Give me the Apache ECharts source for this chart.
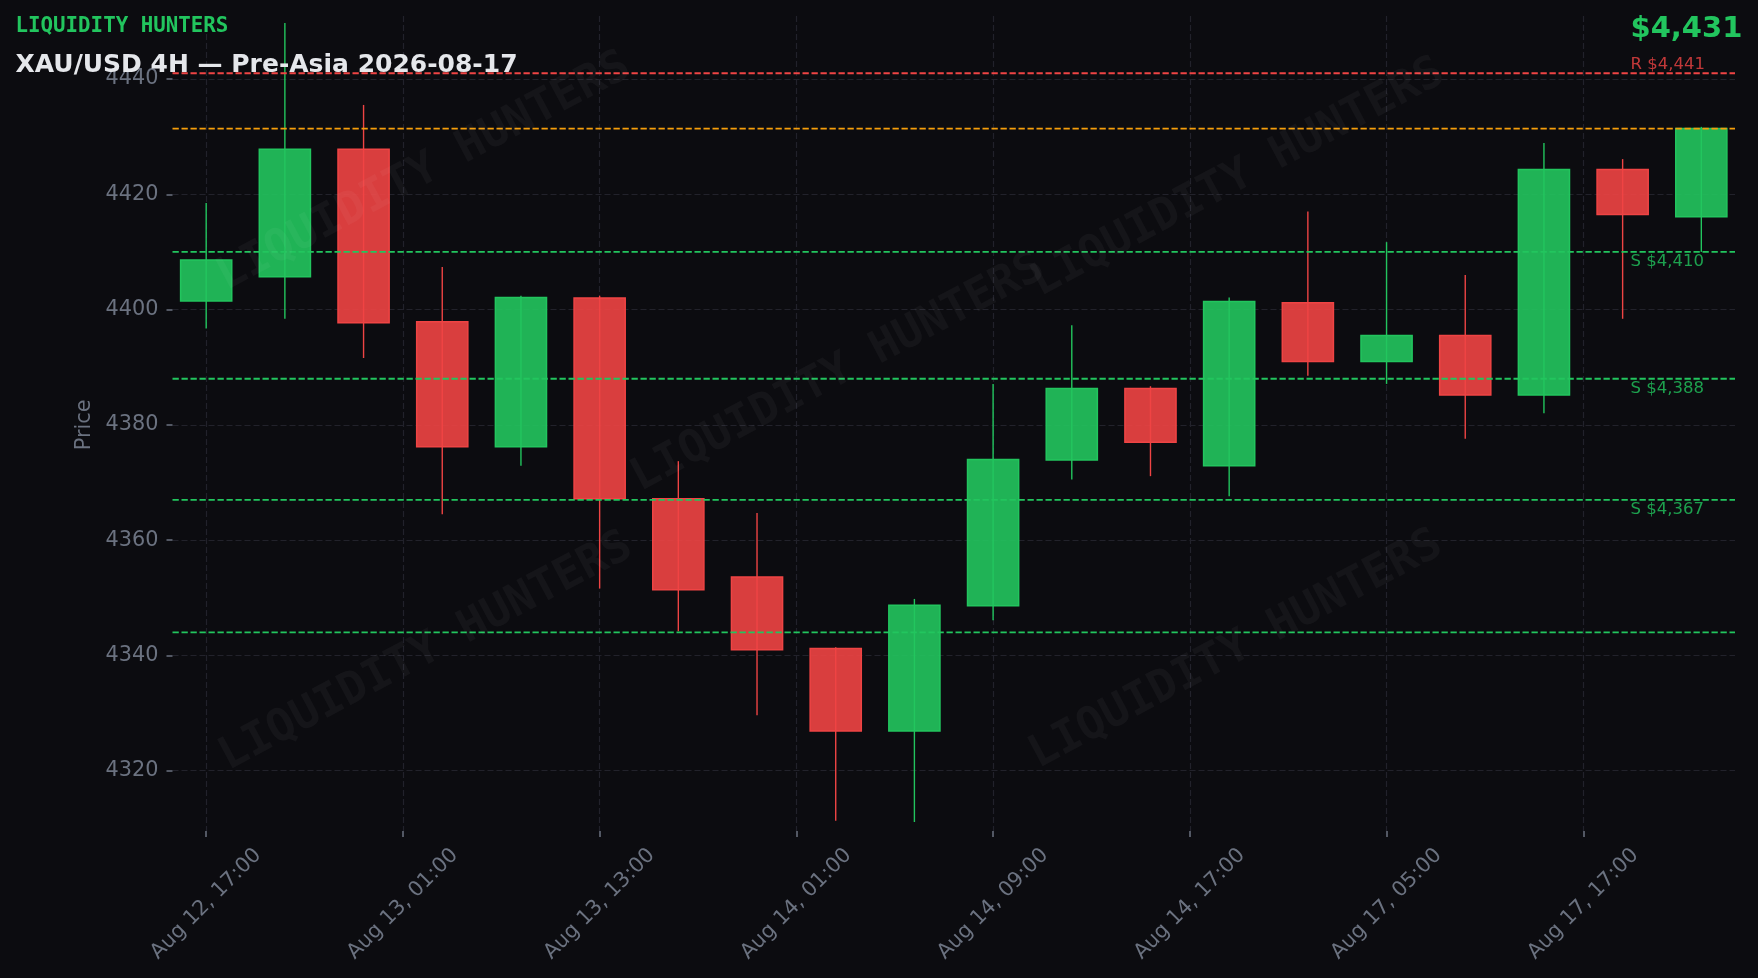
<!DOCTYPE html>
<html>
<head>
<meta charset="utf-8">
<script src="https://cdn.jsdelivr.net/npm/echarts@6/dist/echarts.min.js"></script>
<style>
html,body{margin:0;padding:0;background:#0c0c10;}
#chart{width:1758px;height:978px;}
</style>
</head>
<body>
<div id="chart"></div>
<script>
// ---------------- DATA ----------------
const times = ['Aug 12, 17:00','Aug 12, 21:00','Aug 13, 01:00','Aug 13, 05:00','Aug 13, 09:00','Aug 13, 13:00','Aug 13, 17:00','Aug 13, 21:00','Aug 14, 01:00','Aug 14, 05:00','Aug 14, 09:00','Aug 14, 13:00','Aug 14, 17:00','Aug 14, 21:00','Aug 17, 01:00','Aug 17, 05:00','Aug 17, 09:00','Aug 17, 13:00','Aug 17, 17:00','Aug 17, 21:00'];
const opens  = [4401.5,4405.7,4427.8,4397.9,4376.2,4402.0,4367.2,4353.6,4341.2,4326.9,4348.6,4373.9,4386.3,4372.9,4401.2,4391.0,4395.5,4385.2,4424.3,4416.1];
const closes = [4408.6,4427.8,4397.7,4376.2,4402.1,4367.2,4351.4,4341.0,4326.9,4348.7,4374.0,4386.3,4377.0,4401.4,4391.0,4395.5,4385.2,4424.3,4416.5,4431.4];
const lows   = [4396.7,4398.4,4391.6,4364.5,4372.9,4351.6,4344.2,4329.6,4311.3,4311.1,4346.1,4370.5,4371.1,4367.6,4388.5,4387.1,4377.6,4382.0,4398.4,4410.0];
const highs  = [4418.5,4449.7,4435.5,4407.4,4402.4,4402.4,4373.7,4364.7,4341.4,4349.8,4387.1,4397.3,4386.7,4402.1,4417.0,4411.7,4406.0,4428.9,4426.1,4431.7];
const tickLabels = ['Aug 12, 17:00','Aug 13, 01:00','Aug 13, 13:00','Aug 14, 01:00','Aug 14, 09:00','Aug 14, 17:00','Aug 17, 05:00','Aug 17, 17:00'];
const yTicks = [4320, 4340, 4360, 4380, 4400, 4420, 4440];
const resistanceLevels = [4441];
const supportLevels = [4410, 4388, 4367, 4344];
const lastPrice = closes[closes.length - 1];
const brand = 'LIQUIDITY HUNTERS';
const title = 'XAU/USD 4H — Pre-Asia 2026-08-17';

// ---------------- LAYOUT ----------------
const W = 1758, H = 978;
const plotL = 172.5, plotR = 1735, plotT = 16, plotB = 831;
const xMin = -0.428, xMax = 19.428;
const yMin = 4309.54, yMax = 4450.93;
const tickStep = 2.5;
const tickMax = tickStep * (tickLabels.length - 1);
const labelX = 18.1;
const bodyWidth = 0.65;
const px = x => plotL + (x - xMin) / (xMax - xMin) * (plotR - plotL);
const py = v => plotT + (yMax - v) / (yMax - yMin) * (plotB - plotT);

const FONT = '"DejaVu Sans", Verdana, sans-serif';
const MONO = '"DejaVu Sans Mono", monospace';
const GREEN = '#22c55e', RED = '#ef4444', ORANGE = '#f59e0b';
const AXIS_TXT = '#6b7280';
const GRIDC = '#22222b';

const fmtPrice = v => '$' + Math.round(v).toLocaleString('en-US');

const candleData = times.map((t, i) => [i, opens[i], closes[i], lows[i], highs[i]]);

function candleRender(params, api) {
  const x = api.value(0), o = api.value(1), c = api.value(2), l = api.value(3), h = api.value(4);
  const up = c >= o;
  const col = up ? GREEN : RED;
  const fill = up ? 'rgba(34,197,94,0.9)' : 'rgba(239,68,68,0.9)';
  const pH = api.coord([x, h]), pL = api.coord([x, l]);
  const pO = api.coord([x, o]), pC = api.coord([x, c]);
  const w = api.size([bodyWidth, 0])[0];
  const top = Math.min(pO[1], pC[1]);
  const hh = Math.max(Math.abs(pO[1] - pC[1]), 1);
  return { type: 'group', children: [
    { type: 'line', shape: { x1: pH[0], y1: pH[1], x2: pL[0], y2: pL[1] }, style: { stroke: col, lineWidth: 1.4 } },
    { type: 'rect', shape: { x: pO[0] - w / 2, y: top, width: w, height: hh }, style: { fill: fill, stroke: col, lineWidth: 1.5 } }
  ]};
}

function levelSeries(values, color, labelFn, labelColor, above, z) {
  return {
    type: 'custom', xAxisIndex: 0, yAxisIndex: 0, clip: false, silent: true, z: z,
    encode: { x: 0, y: 1 },
    data: values.map((v, i) => [xMin, v, i]),
    renderItem: function (params, api) {
      const v = api.value(1), idx = api.value(2);
      const a = api.coord([xMin, v]), b = api.coord([xMax, v]);
      const children = [
        { type: 'line', shape: { x1: a[0], y1: a[1], x2: b[0], y2: b[1] },
          style: { stroke: color, lineWidth: 1.8, lineDash: [6.3, 2.7] } }
      ];
      const txt = labelFn ? labelFn(v, idx) : '';
      if (txt) {
        const p = api.coord([labelX, v]);
        children.push({ type: 'text', style: {
          x: p[0], y: p[1] + (above ? -8.3 : 9.5), text: txt, fill: labelColor,
          font: '16.5px ' + FONT, align: 'left', verticalAlign: 'middle' } });
      }
      return { type: 'group', children: children };
    }
  };
}

const axisTickStyle = { show: true, length: 6, lineStyle: { color: AXIS_TXT, width: 1.5 } };
const splitStyle = { show: true, lineStyle: { color: GRIDC, width: 1.2, type: [6, 3] } };

const watermarks = [[424, 172], [1238, 178], [838, 373], [426, 652], [1236, 650]];

const chart = echarts.init(document.getElementById('chart'), null, { renderer: 'canvas', width: W, height: H });
chart.setOption({
  backgroundColor: '#0c0c10',
  animation: false,
  grid: [
    { left: plotL, right: W - plotR, top: plotT, bottom: H - plotB, outerBoundsMode: 'none', containLabel: false },
    { left: px(0), right: W - px(tickMax), top: plotT, bottom: H - plotB, outerBoundsMode: 'none', containLabel: false },
    { left: plotL, right: W - plotR, top: py(yTicks[yTicks.length - 1]), bottom: H - py(yTicks[0]), outerBoundsMode: 'none', containLabel: false }
  ],
  xAxis: [
    { gridIndex: 0, type: 'value', min: xMin, max: xMax, show: false },
    { gridIndex: 1, type: 'value', min: 0, max: tickMax, interval: tickStep,
      axisLine: { show: false }, axisTick: axisTickStyle, splitLine: splitStyle,
      axisLabel: { color: AXIS_TXT, fontSize: 20.8, fontFamily: FONT, rotate: 45, align: 'center', verticalAlign: 'middle', margin: 73,
        formatter: v => tickLabels[Math.round(v / tickStep)] || '' } },
    { gridIndex: 2, type: 'value', min: 0, max: 1, show: false }
  ],
  yAxis: [
    { gridIndex: 0, type: 'value', min: yMin, max: yMax, show: false },
    { gridIndex: 1, type: 'value', min: 0, max: 1, show: false },
    { gridIndex: 2, type: 'value', min: yTicks[0], max: yTicks[yTicks.length - 1], interval: yTicks[1] - yTicks[0],
      name: 'Price', nameLocation: 'middle', nameGap: 62,
      nameTextStyle: { color: AXIS_TXT, fontSize: 20.8, fontFamily: FONT },
      axisLine: { show: false }, axisTick: axisTickStyle, splitLine: splitStyle,
      axisLabel: { color: AXIS_TXT, fontSize: 20.8, fontFamily: FONT, margin: 14, formatter: v => String(v) } }
  ],
  series: [
    { type: 'custom', name: 'XAU/USD', xAxisIndex: 0, yAxisIndex: 0, clip: false, z: 2,
      encode: { x: 0, y: [1, 2, 3, 4] }, data: candleData, renderItem: candleRender },
    levelSeries(resistanceLevels, RED, v => 'R ' + fmtPrice(v), 'rgba(239,68,68,0.8)', true, 4),
    levelSeries([lastPrice], ORANGE, null, null, false, 4),
    levelSeries(supportLevels, GREEN, (v, i) => i < 3 ? 'S ' + fmtPrice(v) : '', 'rgba(34,197,94,0.8)', false, 4)
  ],
  graphic: [
    ...watermarks.map(p => ({ type: 'text', x: p[0], y: p[1], rotation: 28 * Math.PI / 180, z: 50, silent: true,
      style: { text: brand, fill: 'rgba(255,255,255,0.04)', font: 'bold 45px ' + MONO, align: 'center', verticalAlign: 'middle' } })),
    { type: 'text', x: 15.5, y: 27, z: 60, style: { text: brand, fill: GREEN, font: 'bold 20.8px ' + MONO, align: 'left', verticalAlign: 'middle' } },
    { type: 'text', x: 15.5, y: 65.7, z: 60, style: { text: title, fill: '#e5e7eb', font: 'bold 25px ' + FONT, align: 'left', verticalAlign: 'middle' } },
    { type: 'text', x: px(labelX), y: 29.5, z: 60, style: { text: fmtPrice(lastPrice), fill: GREEN, font: 'bold 29px ' + FONT, align: 'left', verticalAlign: 'middle' } }
  ]
});
</script>
</body>
</html>
